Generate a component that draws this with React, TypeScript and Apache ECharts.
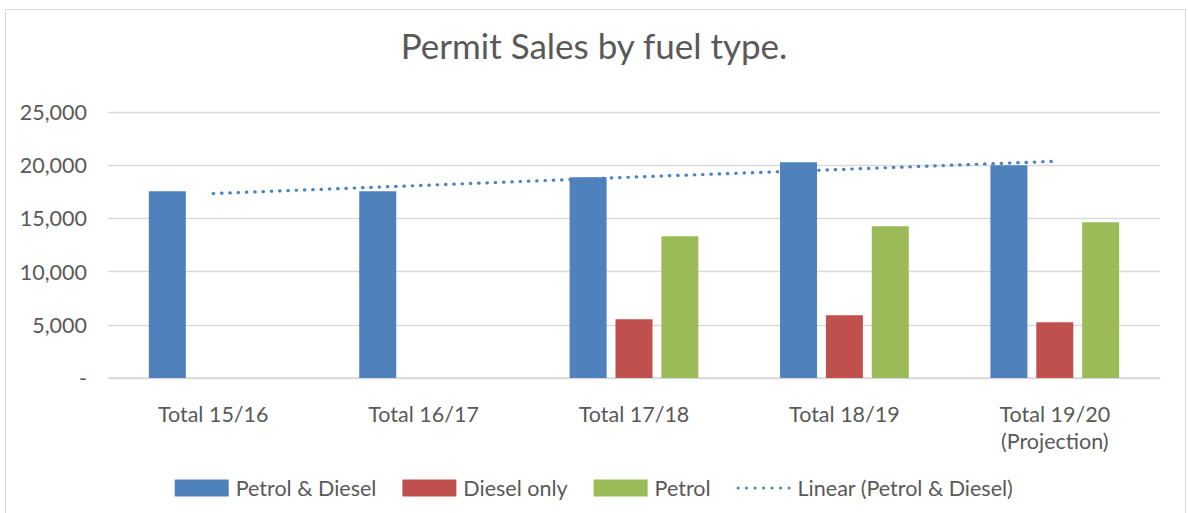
import React, { useEffect, useRef } from "react";
import * as echarts from "echarts";

const categories = ["Total 15/16", "Total 16/17", "Total 17/18", "Total 18/19", "Total 19/20\n(Projection)"];
const petrolDiesel = [17550, 17550, 18860, 20270, 19990];
const dieselOnly = [null, null, 5520, 5890, 5240];
const petrol = [null, null, 13320, 14260, 14630];
const linearTrend = [17340, 18110, 18890, 19615, 20370];
const yTicks = [0, 5000, 10000, 15000, 20000, 25000];

const FONT = "Lato";
const TEXT = "#595959";

function dottedIcon(): string {
  let d = "path://";
  for (let i = 0; i < 7; i++) {
    const x = i * 8.3;
    d += `M${x},1.5a1.5,1.5 0 1,0 3,0a1.5,1.5 0 1,0 -3,0Z`;
  }
  return d;
}

export default function App() {
  const ref = useRef<HTMLDivElement>(null);
  useEffect(() => {
    document.body.style.margin = "0";
    const chart = echarts.init(ref.current!, null, { renderer: "svg" });
    chart.setOption({
      animation: false,
      backgroundColor: "#ffffff",
      title: {
        text: "Permit Sales by fuel type.",
        left: "center",
        top: 22,
        textStyle: { fontFamily: FONT, fontSize: 35, fontWeight: "normal", color: TEXT },
      },
      graphic: [
        {
          type: "rect",
          shape: { x: 5.5, y: 9.5, width: 1180, height: 530 },
          style: { fill: "none", stroke: "#d9d9d9", lineWidth: 1 },
          silent: true,
          z: -1,
        },
      ],
      grid: { left: 108, right: 28, top: 112, bottom: 135, containLabel: false },
      legend: {
        bottom: 9,
        left: "center",
        itemWidth: 54,
        itemHeight: 17,
        itemGap: 26,
        textStyle: { fontFamily: FONT, fontSize: 21.5, color: TEXT, padding: [0, 0, 0, 2] },
        data: [
          { name: "Petrol & Diesel", icon: "rect" },
          { name: "Diesel only", icon: "rect" },
          { name: "Petrol", icon: "rect" },
          { name: "Linear (Petrol & Diesel)", icon: dottedIcon() },
        ],
      },
      xAxis: {
        type: "category",
        data: categories,
        axisLine: { lineStyle: { color: "#d9d9d9", width: 1.5 } },
        axisTick: { show: false },
        axisLabel: {
          fontFamily: FONT,
          fontSize: 21.5,
          color: TEXT,
          margin: 22,
          lineHeight: 27,
          interval: 0,
        },
      },
      yAxis: {
        type: "value",
        min: yTicks[0],
        max: yTicks[yTicks.length - 1],
        interval: 5000,
        axisLine: { show: false },
        axisTick: { show: false },
        splitLine: { lineStyle: { color: "#d9d9d9", width: 1.3 } },
        axisLabel: {
          fontFamily: FONT,
          fontSize: 21.5,
          color: TEXT,
          margin: 21,
          formatter: (v: number) => (v === 0 ? "-" : v.toLocaleString("en-US")),
        },
      },
      series: [
        {
          name: "Petrol & Diesel",
          type: "bar",
          data: petrolDiesel,
          barWidth: 37,
          barGap: "24%",
          itemStyle: { color: "#4f81bd" },
        },
        {
          name: "Diesel only",
          type: "bar",
          data: dieselOnly,
          barWidth: 37,
          barGap: "24%",
          itemStyle: { color: "#c0504d" },
        },
        {
          name: "Petrol",
          type: "bar",
          data: petrol,
          barWidth: 37,
          barGap: "24%",
          itemStyle: { color: "#9bbb59" },
        },
        {
          name: "Linear (Petrol & Diesel)",
          type: "line",
          data: linearTrend,
          symbol: "none",
          z: 5,
          itemStyle: { color: "#4f81bd" },
          lineStyle: { color: "#4f81bd", width: 3.2, type: [0.5, 7.8], cap: "round" },
        },
      ],
    });
    return () => chart.dispose();
  }, []);
  return <div ref={ref} style={{ position: "fixed", left: 0, top: 0, width: 1188, height: 513 }} />;
}
